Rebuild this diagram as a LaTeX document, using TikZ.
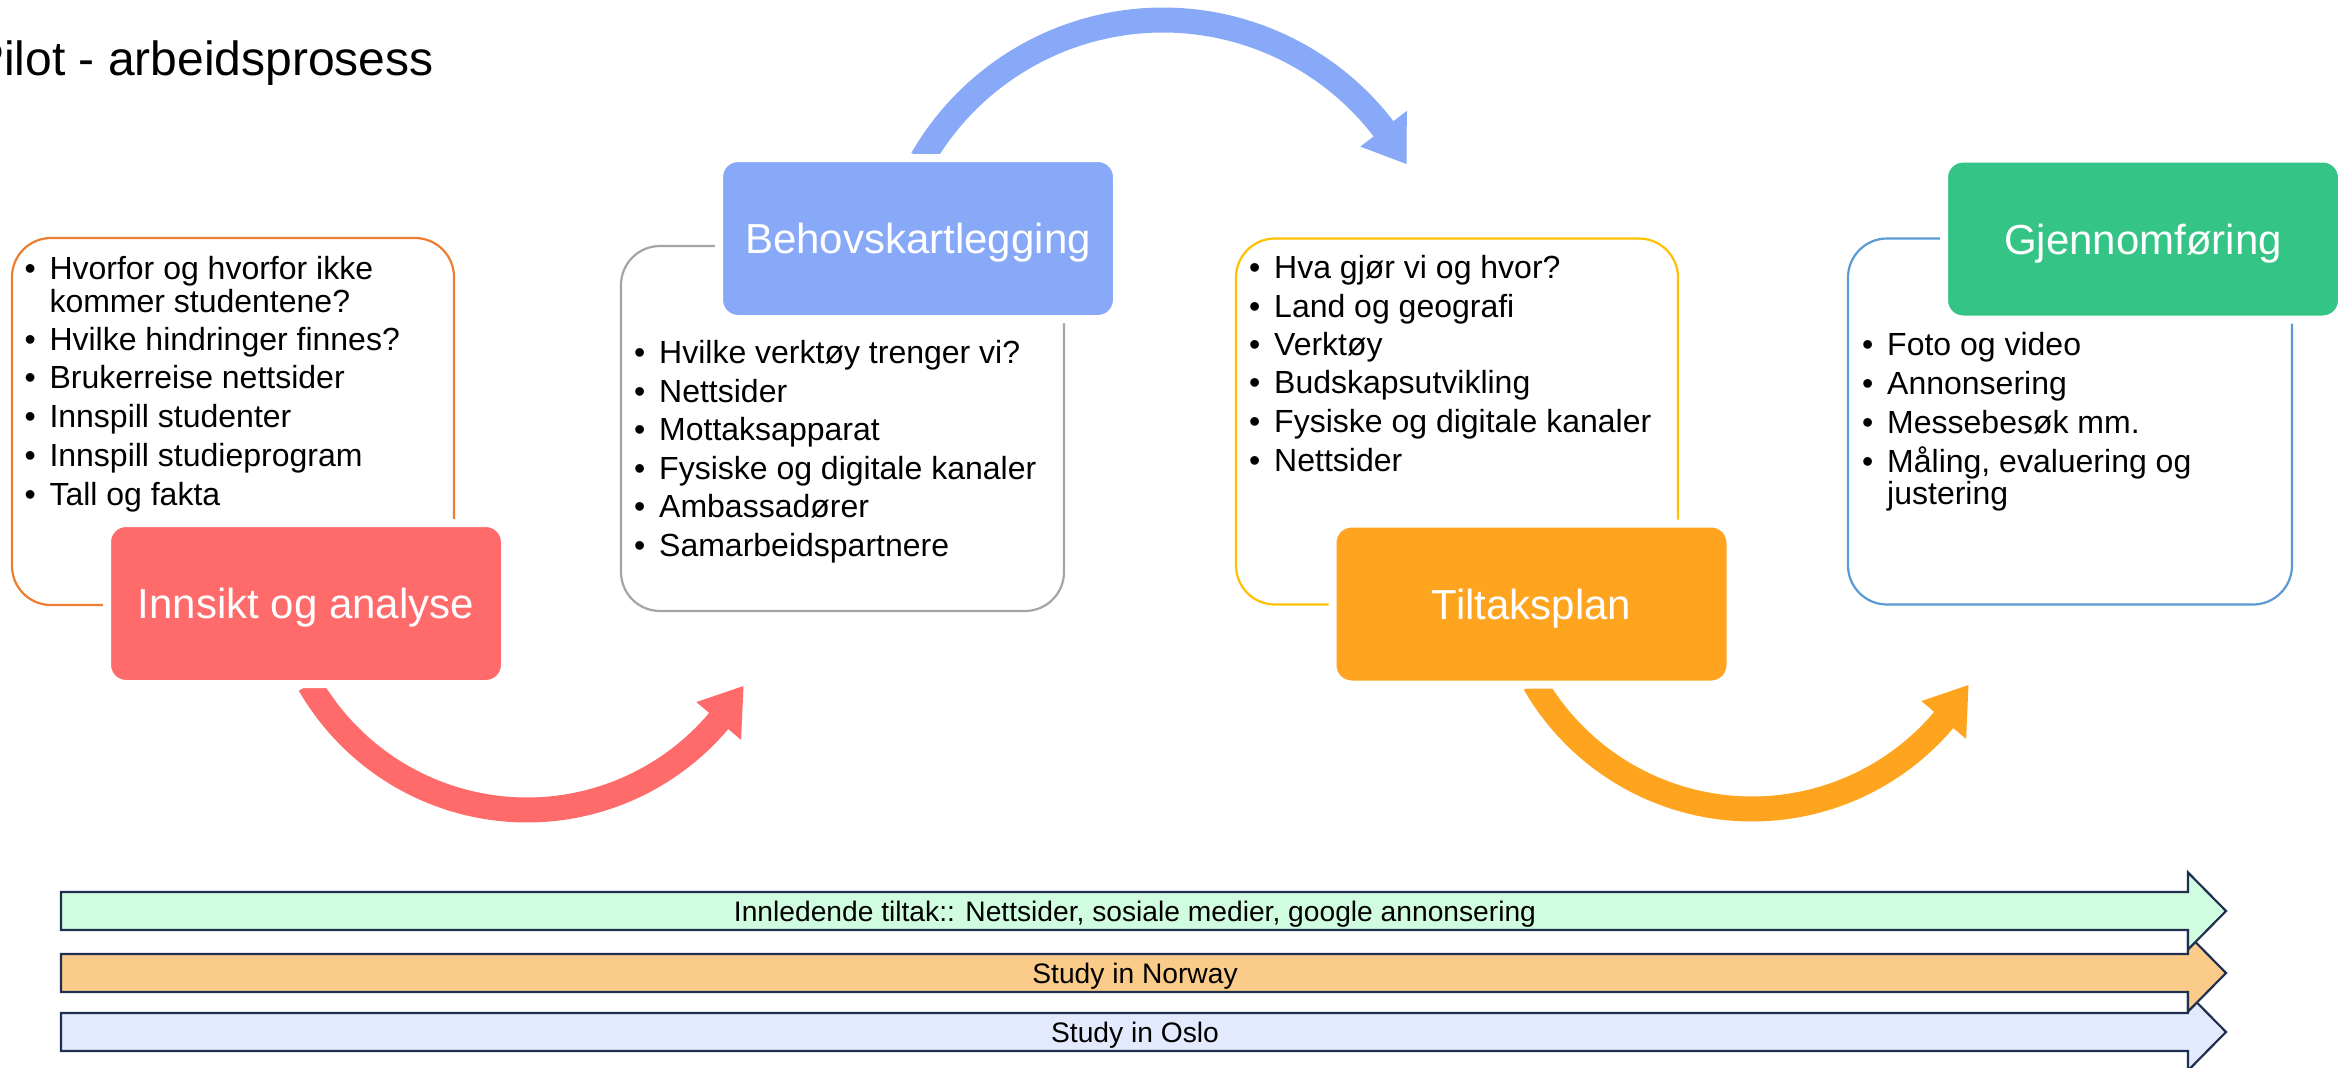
\documentclass[tikz,border=0pt]{standalone}
\usepackage{fontspec}
\setmainfont{Liberation Sans}
\definecolor{redc}{HTML}{FF6B6B}
\definecolor{bluec}{HTML}{88A8F8}
\definecolor{orangec}{HTML}{FFA41F}
\definecolor{greenc}{HTML}{33C486}
\definecolor{lineA}{HTML}{ED7D31}
\definecolor{lineB}{HTML}{A5A5A5}
\definecolor{lineC}{HTML}{FFC000}
\definecolor{lineD}{HTML}{5B9BD5}
\definecolor{navy}{HTML}{1F2F50}
\definecolor{mint}{HTML}{D0FDE0}
\definecolor{peach}{HTML}{FBCB89}
\definecolor{lav}{HTML}{E4EAFE}
\tikzset{
  obox/.style={draw, line width=2.2pt, rounded corners=39pt, inner sep=0pt, fill=white},
  cbox/.style={draw=white, line width=8pt, rounded corners=19pt, inner sep=0pt,
    minimum width=398pt, minimum height=161pt, text=white,
    font=\fontsize{42}{44}\selectfont, text height=30pt, text depth=0pt},
  btext/.style={anchor=base west, inner sep=0pt, font=\fontsize{32}{33}\selectfont},
  bartext/.style={inner sep=0pt, font=\fontsize{28.2}{30}\selectfont, text height=20.2pt, text depth=0pt},
  barrowstyle/.style={draw=navy, line width=2.2pt, line join=miter},
}
\newcommand{\bitem}[4]{\node[btext] (#1) at (#2,#3) {#4};
  \node[btext] (#1d) at ({#2-25},#3) {\textbullet};}
\newcommand{\bline}[4]{\node[btext] (#1) at (#2,#3) {#4};}
\newcommand{\barrow}[2]{\filldraw[barrowstyle, fill=#2] (61,{#1-19}) -- (2188,{#1-19}) -- (2188,{#1-38.5}) -- (2226,#1) -- (2188,{#1+38.5}) -- (2188,{#1+19}) -- (61,{#1+19}) -- cycle;}
\begin{document}
\begin{tikzpicture}[x=1pt, y=-1pt]
\useasboundingbox[fill=white] (0,0) rectangle (2351,1068);

% title (cut at the left edge, as in the reference)
\node[anchor=base west, inner sep=0pt, font=\fontsize{48}{50}\selectfont] (title) at (-28,75) {Pilot - arbeidsprosess};

% curved arrows
\fill[redc] plot[domain=150:40.2, samples=70, variable=\t] ({527+263.5*cos(\t)},{559+263.5*sin(\t)})
  -- ({527+280.3*cos(40.2)},{559+280.3*sin(40.2)}) -- ({527+251*cos(30.4)},{559+251*sin(30.4)})
  -- ({527+221.7*cos(40.2)},{559+221.7*sin(40.2)})
  -- plot[domain=40.2:150, samples=70, variable=\t] ({527+238.5*cos(\t)},{559+238.5*sin(\t)}) -- cycle;
\fill[bluec] plot[domain=-150:-37.5, samples=70, variable=\t] ({1163+290.5*cos(\t)},{298+290.5*sin(\t)})
  -- ({1163+307.3*cos(-37.5)},{298+307.3*sin(-37.5)}) -- ({1163+278*cos(-28.8)},{298+278*sin(-28.8)})
  -- ({1163+248.7*cos(-37.5)},{298+248.7*sin(-37.5)})
  -- plot[domain=-37.5:-150, samples=70, variable=\t] ({1163+265.5*cos(\t)},{298+265.5*sin(\t)}) -- cycle;
\fill[orangec] plot[domain=150:40.2, samples=70, variable=\t] ({1752+263.5*cos(\t)},{558+263.5*sin(\t)})
  -- ({1752+280.3*cos(40.2)},{558+280.3*sin(40.2)}) -- ({1752+251*cos(30.4)},{558+251*sin(30.4)})
  -- ({1752+221.7*cos(40.2)},{558+221.7*sin(40.2)})
  -- plot[domain=40.2:150, samples=70, variable=\t] ({1752+238.5*cos(\t)},{558+238.5*sin(\t)}) -- cycle;

% outline boxes
\node[obox, draw=lineA, minimum width=442pt, minimum height=367pt] (box1) at (233,421.5) {};
\node[obox, draw=lineB, minimum width=443pt, minimum height=365pt] (box2) at (842.5,428.5) {};
\node[obox, draw=lineC, minimum width=442pt, minimum height=366pt] (box3) at (1457,421.5) {};
\node[obox, draw=lineD, minimum width=444pt, minimum height=366pt] (box4) at (2070,421.5) {};

% coloured title boxes
\node[cbox, fill=redc] (innsikt) at (306,603.5) {Innsikt og analyse};
\node[cbox, fill=bluec] (behov) at (918,238.5) {Behovskartlegging};
\node[cbox, fill=orangec] (tiltak) at (1531.5,604) {Tiltaksplan};
\node[cbox, fill=greenc] (gjenn) at (2143,239) {Gjennomføring};

% bullets box 1
\bitem{a1}{49.3}{279.3}{Hvorfor og hvorfor ikke}
\bline{a1b}{49.3}{312}{kommer studentene?}
\bitem{a2}{49.3}{350}{Hvilke hindringer finnes?}
\bitem{a3}{49.3}{388.5}{Brukerreise nettsider}
\bitem{a4}{49.3}{427.5}{Innspill studenter}
\bitem{a5}{49.3}{466.5}{Innspill studieprogram}
\bitem{a6}{49.3}{505}{Tall og fakta}
% bullets box 2
\bitem{b1}{659}{363}{Hvilke verktøy trenger vi?}
\bitem{b2}{659}{402}{Nettsider}
\bitem{b3}{659}{440}{Mottaksapparat}
\bitem{b4}{659}{479}{Fysiske og digitale kanaler}
\bitem{b5}{659}{517}{Ambassadører}
\bitem{b6}{659}{556}{Samarbeidspartnere}
% bullets box 3
\bitem{c1}{1274}{278}{Hva gjør vi og hvor?}
\bitem{c2}{1274}{317}{Land og geografi}
\bitem{c3}{1274}{355}{Verktøy}
\bitem{c4}{1274}{393.5}{Budskapsutvikling}
\bitem{c5}{1274}{432}{Fysiske og digitale kanaler}
\bitem{c6}{1274}{471}{Nettsider}
% bullets box 4
\bitem{d1}{1887}{355}{Foto og video}
\bitem{d2}{1887}{394}{Annonsering}
\bitem{d3}{1887}{433}{Messebesøk mm.}
\bitem{d4}{1887}{472}{Måling, evaluering og}
\bline{d4b}{1887}{504}{justering}

% bottom arrows
\barrow{1032}{lav}
\barrow{973}{peach}
\barrow{911}{mint}
\node[bartext] (t1) at (1135,911) {Innledende tiltak:: Nettsider, sosiale medier, google annonsering};
\node[bartext] (t2) at (1135,973) {Study in Norway};
\node[bartext] (t3) at (1135,1032) {Study in Oslo};
\end{tikzpicture}
\end{document}
